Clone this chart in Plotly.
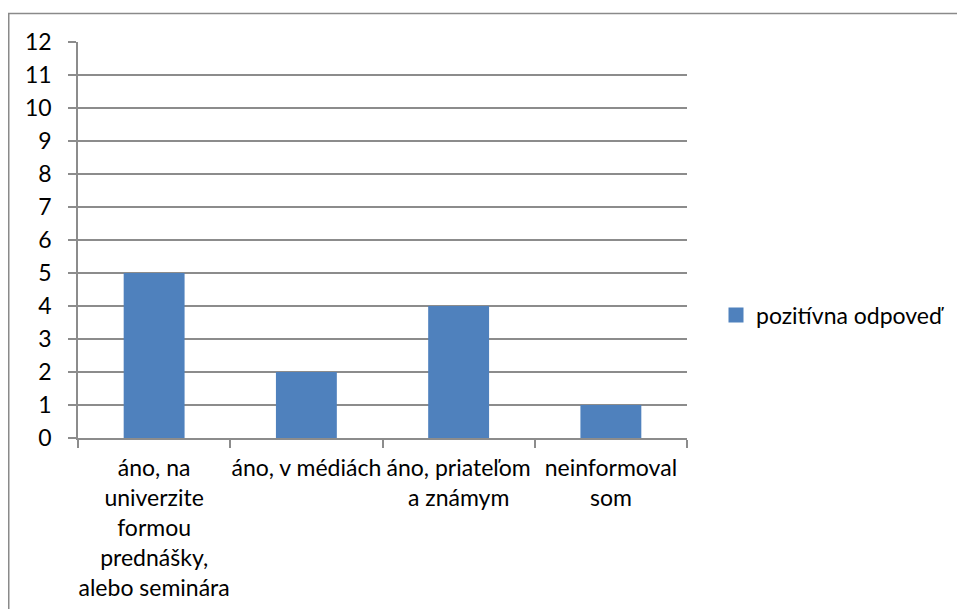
import plotly.graph_objects as go

categories = [
    "áno, na<br>univerzite<br>formou<br>prednášky,<br>alebo seminára",
    "áno, v médiách",
    "áno, priateľom<br>a známym",
    "neinformoval<br>som",
]
values = [5, 2, 4, 1]
series_name = "pozitívna odpoveď"
y_ticks = list(range(0, 13))

BAR = "#4F81BD"
GRID = "#8C8C8C"
FONT = dict(family="Lato, 'Open Sans', sans-serif", size=23, color="#000000")

# page body adds an 8px margin, so the figure is a bit smaller than the window
W, H = 957, 601
L, R, T, B = 70, 278, 34, 171
pw, ph = W - L - R, H - T - B


def px_x(x):
    return (x - L) / pw


def px_y(y):
    return (H - B - y) / ph


fig = go.Figure()
fig.add_trace(go.Bar(
    x=categories,
    y=values,
    name=series_name,
    marker=dict(color=BAR, line=dict(width=0)),
    showlegend=False,
))
# legend entry with a bigger square swatch, like the original
fig.add_trace(go.Scatter(
    x=[None], y=[None], mode="markers", name=series_name,
    marker=dict(symbol="square", size=15, color=BAR),
    showlegend=True,
))

# outer chart border (right/bottom edges lie outside the visible window)
fig.add_shape(
    type="rect", xref="paper", yref="paper",
    x0=px_x(0.75), x1=px_x(1000), y0=px_y(700), y1=px_y(5.5),
    line=dict(color="#8A8A8A", width=1.5), fillcolor="rgba(0,0,0,0)",
    layer="below",
)

fig.update_layout(
    width=W, height=H,
    margin=dict(l=L, r=R, t=T, b=B, pad=0, autoexpand=False),
    paper_bgcolor="white",
    plot_bgcolor="white",
    font=FONT,
    bargap=0.6,
    showlegend=True,
    legend=dict(
        x=px_x(708), y=px_y(307), xanchor="left", yanchor="middle",
        font=FONT, bgcolor="rgba(0,0,0,0)", itemwidth=30,
    ),
    xaxis=dict(
        type="category", automargin=False,
        showline=True, linecolor=GRID, linewidth=1.5,
        ticks="outside", tickson="boundaries", ticklen=8,
        tickcolor=GRID, tickwidth=1.5,
        showgrid=False, tickangle=0,
        ticklabelstandoff=9,
    ),
    yaxis=dict(
        range=[0, 12], tickvals=y_ticks, automargin=False,
        showline=True, linecolor=GRID, linewidth=1.5,
        ticks="outside", ticklen=8, tickcolor=GRID, tickwidth=1.5,
        showgrid=True, gridcolor=GRID, gridwidth=1.5,
        zeroline=False,
        ticklabelstandoff=12,
    ),
)

fig.write_html("out.html")
